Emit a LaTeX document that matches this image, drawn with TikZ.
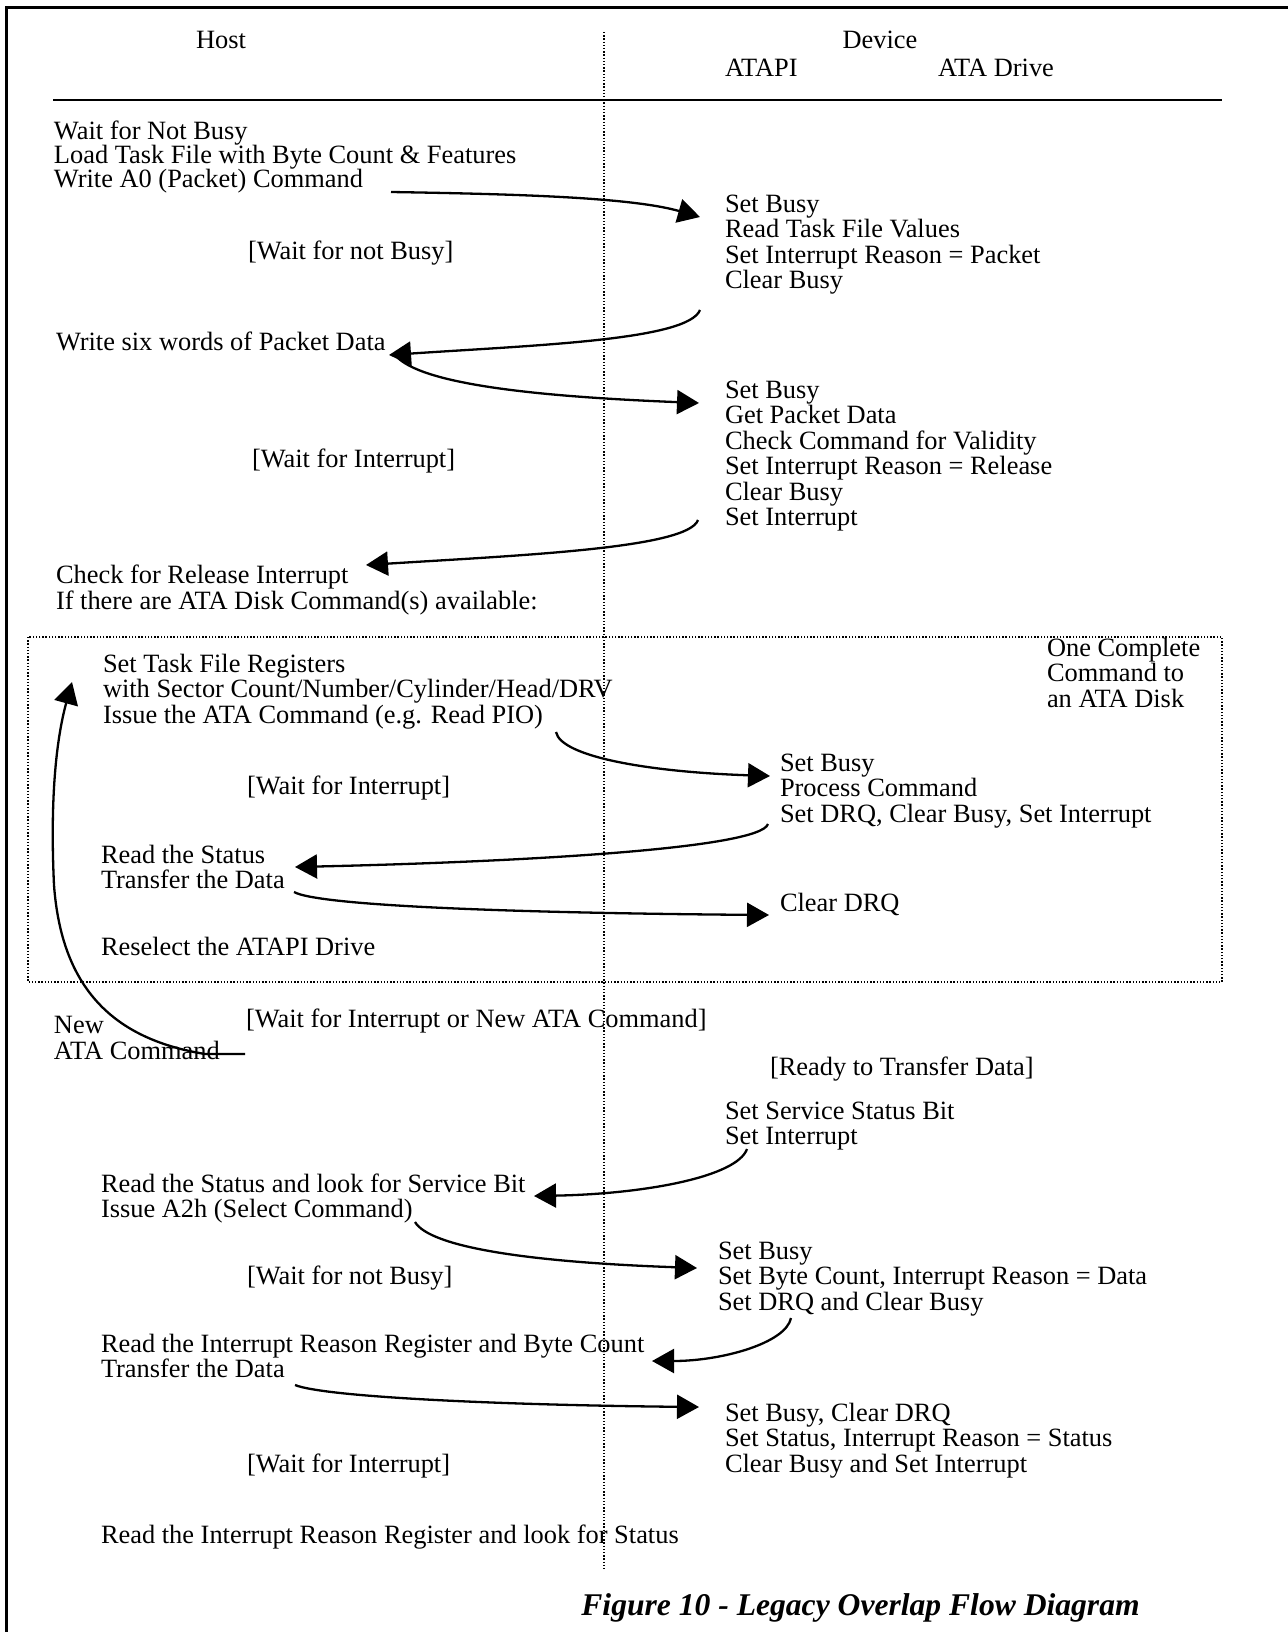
\documentclass[tikz,border=0pt]{standalone}
\usepackage{fontspec}
\setmainfont{Liberation Serif}
\usetikzlibrary{arrows.meta}
\newcommand{\lns}[2]{\vtop{\baselineskip=#1\relax\lineskiplimit=-20pt\relax\halign{##\hfil\cr#2\crcr}}}
\begin{document}
\begin{tikzpicture}[x=0.5pt,y=-0.5pt,
  txt/.style={anchor=base west,inner sep=0pt,outer sep=0pt,font=\fontsize{13.2}{15}\selectfont},
  ctxt/.style={anchor=base,inner sep=0pt,outer sep=0pt,font=\fontsize{13.2}{15}\selectfont},
  flow/.style={line width=1.15pt,-{Triangle[length=11pt,width=12pt]}},
  dots/.style={line width=0.7pt,dash pattern=on 0.7pt off 0.9pt},
  frameline/.style={line width=1.5pt}]
\useasboundingbox (0,0) rectangle (1288,1632);
% frame, rule, separators
\draw[frameline] (6,1632) -- (6,8) -- (1288,8);
\draw[line width=1pt] (53,100) -- (1222,100);
\draw[dots] (604,32) -- (604,1570);
\draw[dots] (28,637) rectangle (1222,982);
% headers
\node[ctxt] (host) at (221,49) {Host};
\node[ctxt] (device) at (880,49) {Device};
\node[txt] (atapi) at (725,77) {ATAPI};
\node[txt] (atadrive) at (938,77) {ATA Drive};
% texts
\node[txt] (h1) at (54,140) {\lns{11.9pt}{Wait for Not Busy\cr Load Task File with Byte Count \& Features\cr Write A0 (Packet) Command}};
\node[txt] (d1) at (725,212) {\lns{12.75pt}{Set Busy\cr Read Task File Values\cr Set Interrupt Reason = Packet\cr Clear Busy}};
\node[txt] (w1) at (248,259) {[Wait for not Busy]};
\node[txt] (h2) at (56,350) {Write six words of Packet Data};
\node[txt] (d2) at (725,398) {\lns{12.75pt}{Set Busy\cr Get Packet Data\cr Check Command for Validity\cr Set Interrupt Reason = Release\cr Clear Busy\cr Set Interrupt}};
\node[txt] (w2) at (252,467) {[Wait for Interrupt]};
\node[txt] (h3) at (56,583) {\lns{13.2pt}{Check for Release Interrupt\cr If there are ATA Disk Command(s) available:}};
\node[txt] (note) at (1047,656) {\lns{12.75pt}{One Complete\cr Command to\cr an ATA Disk}};
\node[txt] (h4) at (103,672) {\lns{12.75pt}{Set Task File Registers\cr with Sector Count/Number/Cylinder/Head/DRV\cr Issue the ATA Command (e.g. Read PIO)}};
\node[txt] (w3) at (247,794) {[Wait for Interrupt]};
\node[txt] (d3) at (780,771) {\lns{12.75pt}{Set Busy\cr Process Command\cr Set DRQ, Clear Busy, Set Interrupt}};
\node[txt] (h5) at (101,863) {\lns{12.75pt}{Read the Status\cr Transfer the Data}};
\node[txt] (d4) at (780,911) {Clear DRQ};
\node[txt] (h6) at (101,955) {Reselect the ATAPI Drive};
\node[txt] (h7) at (54,1033) {\lns{13pt}{New\cr ATA Command}};
\node[txt] (w4) at (246,1027) {[Wait for Interrupt or New ATA Command]};
\node[txt] (w5) at (770,1075) {[Ready to Transfer Data]};
\node[txt] (d5) at (725,1119) {\lns{12.75pt}{Set Service Status Bit\cr Set Interrupt}};
\node[txt] (h8) at (101,1192) {\lns{12.75pt}{Read the Status and look for Service Bit\cr Issue A2h (Select Command)}};
\node[txt] (d6) at (718,1259) {\lns{12.75pt}{Set Busy\cr Set Byte Count, Interrupt Reason = Data\cr Set DRQ and Clear Busy}};
\node[txt] (w6) at (247,1284) {[Wait for not Busy]};
\node[txt] (h9) at (101,1352) {\lns{12.75pt}{Read the Interrupt Reason Register and Byte Count\cr Transfer the Data}};
\node[txt] (d7) at (725,1421) {\lns{12.75pt}{Set Busy, Clear DRQ\cr Set Status, Interrupt Reason = Status\cr Clear Busy and Set Interrupt}};
\node[txt] (w7) at (247,1472) {[Wait for Interrupt]};
\node[txt] (h10) at (101,1543) {Read the Interrupt Reason Register and look for Status};
\node[anchor=base west,inner sep=0pt,font=\fontsize{15.8}{18}\selectfont\bfseries\itshape] (cap) at (581,1615) {Figure 10 - Legacy Overlap Flow Diagram};
% connectors
\draw[flow] ([shift={(337,52)}]h1.base west) .. controls +(120,2) and +(-70,-20) .. ([shift={(-25,5)}]d1.base west);
\draw[flow] ([shift={(-25,98)}]d1.base west) .. controls +(-12,30) and +(150,-10) .. ([shift={(333,5)}]h2.base west);
\draw[flow] ([shift={(342,8)}]h2.base west) .. controls +(30,28) and +(-150,-6) .. ([shift={(-26,5)}]d2.base west);
\draw[flow] ([shift={(-27,122)}]d2.base west) .. controls +(-10,28) and +(160,-10) .. ([shift={(310,-18)}]h3.base west);
\draw[flow] ([shift={(453,60)}]h4.base west) .. controls +(5,25) and +(-120,-4) .. ([shift={(-10,5)}]d3.base west);
\draw[flow] ([shift={(-12,53)}]d3.base west) .. controls +(-8,25) and +(220,-5) .. ([shift={(194,4)}]h5.base west);
\draw[flow] ([shift={(193,29)}]h5.base west) .. controls +(25,14) and +(-250,-2) .. ([shift={(-11,4)}]d4.base west);
\draw[flow] ([shift={(191,21)}]h7.base west) -- ++(-40,0) .. controls (120,1040) and (62,995) .. (54,885) .. controls (50,800) and (56,740) .. ([shift={(-31,10)}]h4.base west);
\draw[flow] ([shift={(22,30)}]d5.base west) .. controls +(-10,28) and +(110,-2) .. ([shift={(433,4)}]h8.base west);
\draw[flow] ([shift={(314,30)}]h8.base west) .. controls +(15,25) and +(-170,-6) .. ([shift={(-21,9)}]d6.base west);
\draw[flow] ([shift={(73,59)}]d6.base west) .. controls +(-5,25) and +(70,0) .. ([shift={(551,9)}]h9.base west);
\draw[flow] ([shift={(194,33)}]h9.base west) .. controls +(30,12) and +(-200,-2) .. ([shift={(-26,-14)}]d7.base west);
\end{tikzpicture}
\end{document}
